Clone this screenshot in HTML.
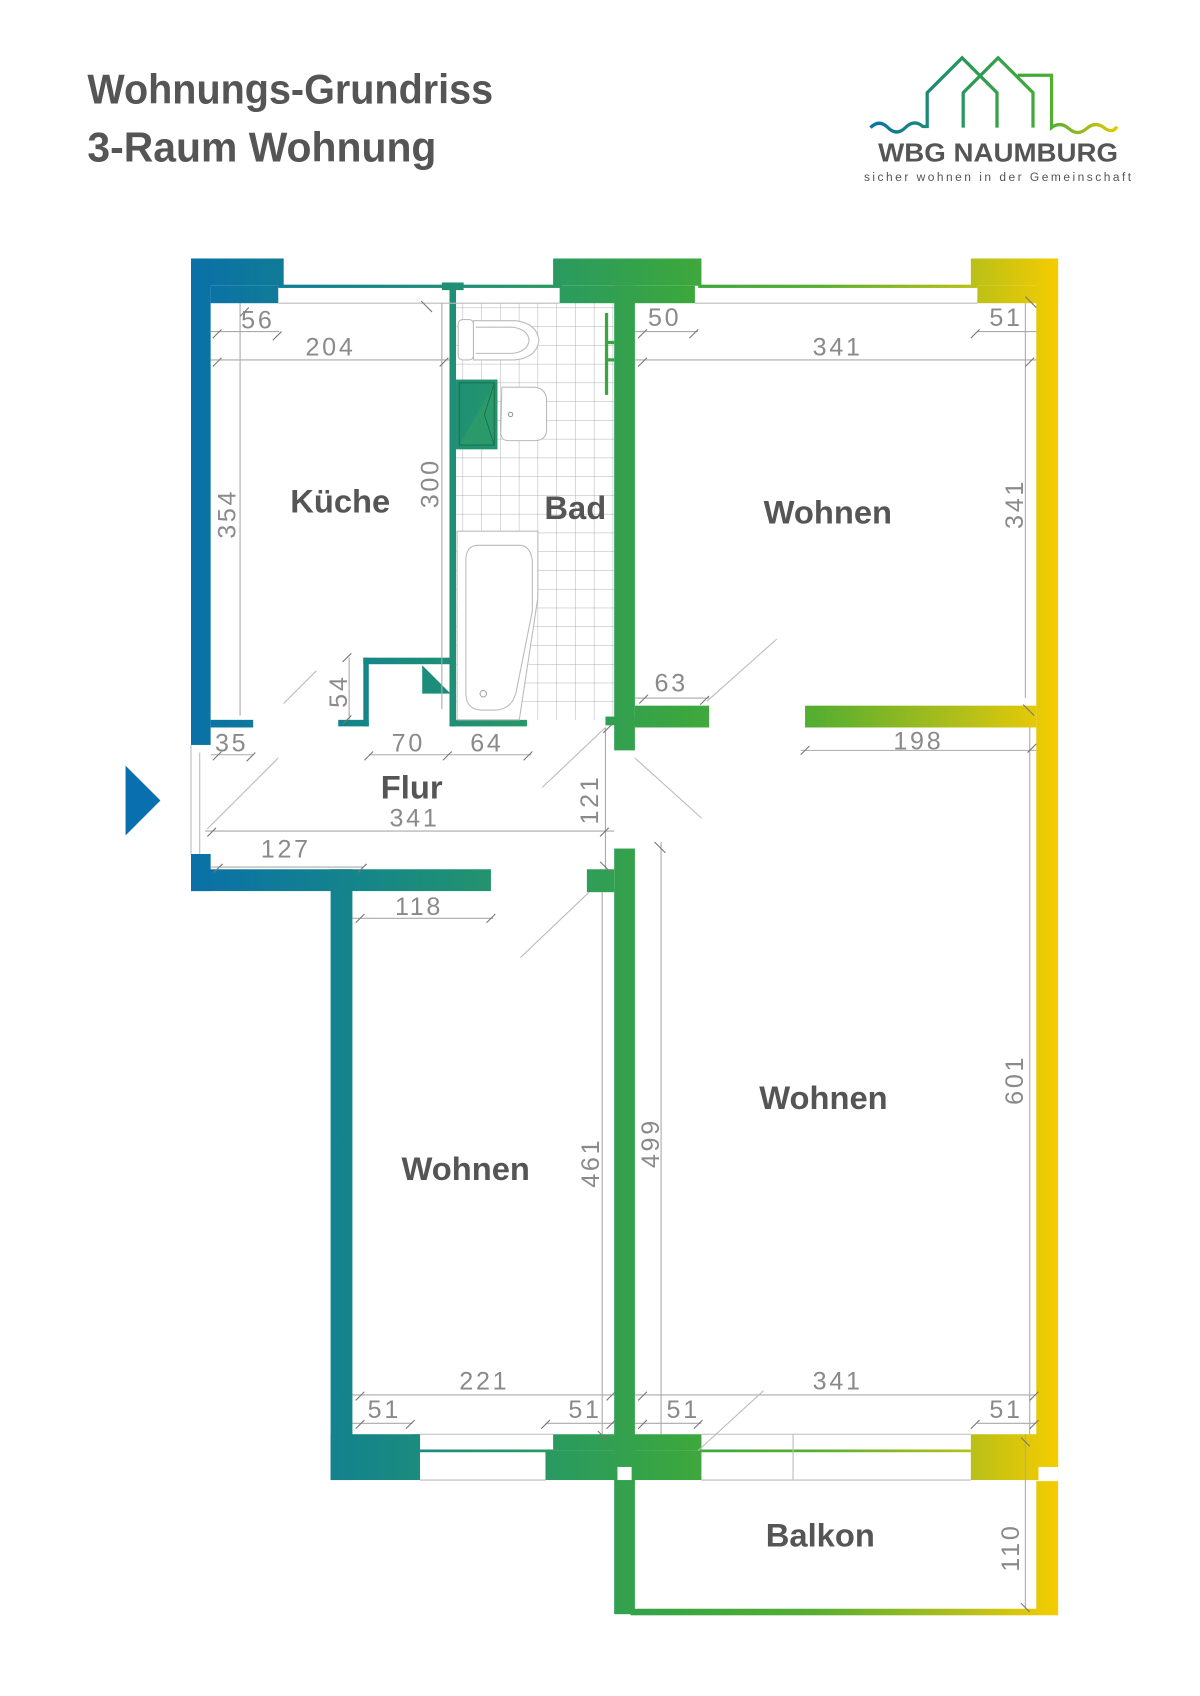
<!DOCTYPE html>
<html><head><meta charset="utf-8"><style>
html,body{margin:0;padding:0;background:#fff}
svg{display:block}
.t{font-family:"Liberation Sans",sans-serif;fill:#8a8a8a;font-size:23px;letter-spacing:2.5px}
.r{font-family:"Liberation Sans",sans-serif;font-weight:bold;fill:#555;font-size:30px}
.d{stroke:#aaa;stroke-width:1;fill:none}
.dk{stroke:#777;stroke-width:1;fill:none}
.s{stroke:#bbb;stroke-width:1;fill:none}
</style></head><body>
<svg width="1200" height="1696" viewBox="0 0 1100 1555" xmlns="http://www.w3.org/2000/svg">
<defs>
<linearGradient id="g" gradientUnits="userSpaceOnUse" x1="175" y1="0" x2="970" y2="0">
<stop offset="0" stop-color="#0a70a8"/>
<stop offset="0.2" stop-color="#158688"/>
<stop offset="0.42" stop-color="#2a9a60"/>
<stop offset="0.56" stop-color="#3aa640"/>
<stop offset="0.72" stop-color="#56ae30"/>
<stop offset="0.9" stop-color="#b8c018"/>
<stop offset="1" stop-color="#f5cc00"/>
</linearGradient>
<linearGradient id="lg" gradientUnits="userSpaceOnUse" x1="795" y1="0" x2="1030" y2="0">
<stop offset="0" stop-color="#0a70a8"/>
<stop offset="0.4" stop-color="#2a9a55"/>
<stop offset="0.7" stop-color="#4aac35"/>
<stop offset="1" stop-color="#f0cc00"/>
</linearGradient>
<pattern id="tile" patternUnits="userSpaceOnUse" x="424" y="282" width="17.2" height="17.2">
<path d="M0 0H17.2M0 0V17.2" stroke="#999" stroke-width="0.7" fill="none"/>
</pattern>
</defs>

<!-- title -->
<text x="80" y="95" font-family="'Liberation Sans Narrow','Liberation Sans',sans-serif" font-weight="bold" font-size="38" fill="#555" textLength="372" lengthAdjust="spacingAndGlyphs">Wohnungs-Grundriss</text>
<text x="80" y="148" font-family="'Liberation Sans Narrow','Liberation Sans',sans-serif" font-weight="bold" font-size="38" fill="#555" textLength="320" lengthAdjust="spacingAndGlyphs">3-Raum Wohnung</text>

<!-- logo -->
<g fill="none" stroke="url(#lg)" stroke-width="3">
<path d="M798 117 q8 -8 16 0 t16 0 t16 -1 h4 V85 L882 53 L914 85 V117"/>
<path d="M883 117 V85 L915 53 L947 85 V117"/>
<path d="M933 69 H964 V117 q8 -6 16 1 t16 0 t16 -1 t12 -1"/>
</g>
<text x="805" y="148" font-family="'Liberation Sans',sans-serif" font-weight="bold" font-size="24" fill="#555" textLength="220" lengthAdjust="spacingAndGlyphs">WBG NAUMBURG</text>
<text x="792" y="166" font-family="'Liberation Sans',sans-serif" font-size="11" fill="#555" textLength="245">sicher wohnen in der Gemeinschaft</text>

<!-- bath tiles -->
<rect x="418" y="278" width="145" height="382" fill="url(#tile)"/>

<!-- walls -->
<g fill="url(#g)">
<rect x="175" y="237" width="85" height="25"/>
<rect x="175" y="237" width="18" height="446"/>
<rect x="193" y="262" width="62" height="16"/>
<rect x="507" y="237" width="136" height="25"/>
<rect x="513" y="262" width="124" height="16"/>
<rect x="890" y="237" width="80" height="25"/>
<rect x="896" y="262" width="74" height="16"/>
<rect x="950" y="237" width="20" height="1108"/>
<rect x="950" y="1358" width="20" height="122"/>
<rect x="255" y="261" width="260" height="3"/>
<rect x="640" y="261" width="256" height="3"/>
<rect x="563" y="262" width="19" height="426"/>
<rect x="582" y="647" width="68" height="20"/>
<rect x="738" y="647" width="212" height="20"/>
<rect x="193" y="660" width="39" height="7"/>
<rect x="310" y="660" width="28" height="6"/>
<rect x="333" y="603" width="84" height="6"/>
<rect x="333" y="603" width="5" height="63"/>
<rect x="412" y="262" width="6" height="404"/>
<rect x="405" y="259" width="20" height="7"/>
<rect x="412" y="660" width="71" height="6"/>
<rect x="555" y="657" width="27" height="8"/>
<polygon points="387,610 413,636 387,636"/>
<rect x="418" y="348" width="38" height="64"/>
<rect x="175" y="783" width="18" height="34"/>
<rect x="175" y="797" width="275" height="20"/>
<rect x="303" y="797" width="20" height="560"/>
<rect x="538" y="797" width="25" height="21"/>
<rect x="563" y="778" width="19" height="579"/>
<rect x="303" y="1315" width="82" height="42"/>
<rect x="378" y="1315" width="7" height="15"/>
<rect x="500" y="1330" width="143" height="27"/>
<rect x="507" y="1315" width="136" height="15"/>
<rect x="890" y="1315" width="80" height="42"/>
<rect x="385" y="1329" width="122" height="2.5"/>
<rect x="643" y="1329" width="247" height="2.5"/>
<rect x="563" y="1345" width="19" height="135"/>
<rect x="578" y="1475" width="392" height="6"/>
</g>
<rect x="566" y="1345" width="13" height="12" fill="#fff"/>
<rect x="952" y="1345" width="18" height="12" fill="#fff"/>
<!-- shower tray details -->
<polygon points="421,408 453,352 453,408" fill="#2a9a6a"/>
<rect x="421" y="351" width="32" height="57" fill="none" stroke="#1a6a4a" stroke-width="0.8"/>
<path d="M453 352 L444 380 L453 408" stroke="#1a6a4a" stroke-width="0.8" fill="none"/>
<!-- grab bar -->
<path d="M556 287 V362 M556 330 H563 M556 314 H563" stroke="#3aa640" stroke-width="3" fill="none"/>

<!-- toilet, sink, tub -->
<rect x="420" y="293" width="14" height="37" rx="4" fill="#fff" stroke="#bbb"/>
<path d="M434 294 H472 Q492 296 494 312 Q492 328 472 330 H434 Z" fill="#fff" stroke="#bbb"/>
<path d="M436 300 H470 Q484 302 485 312 Q484 322 470 324 H436" fill="none" stroke="#bbb"/>
<path d="M460 355 H490 Q500 356 501 366 V395 Q500 404 490 404 H466 Q460 404 459 398 Z" fill="#fff" stroke="#bbb"/>
<circle cx="468" cy="380" r="2" fill="none" stroke="#999"/>
<path d="M419 487 H493 V548 L476 660 H419 Z" fill="#fff" stroke="#bbb"/>
<path d="M438 500 H478 Q487 502 488 515 V560 L473 635 Q469 650 455 651 H440 Q428 650 427 637 V512 Q428 500 438 500 Z" fill="none" stroke="#bbb"/>
<circle cx="443" cy="636" r="3" fill="none" stroke="#aaa"/>

<!-- entrance thin lines -->
<path d="M175 683 V783 M183 690 V783" stroke="#bbb" stroke-width="1" fill="none"/>
<polygon points="115,702 147,734 115,766" fill="#0a6fae"/>

<!-- window sill lines -->
<path class="s" d="M255 278 H513 M637 278 H896 M385 1315 H507 M643 1315 H890 M385 1357 H500 M643 1357 H890 M727 1315 V1357"/>

<!-- dimension lines -->
<g class="d">
<path d="M193 304 H256 M193 330 H412 M220 278 V656 M405 278 V650"/>
<path d="M582 304 H640 M582 330 H950 M896 304 H950 M940 278 V640"/>
<path d="M582 640 H650 M734 688 H950 M944 667 V1315"/>
<path d="M193 692 H232 M338 692 H487 M188 762 H563 M555 667 V797 M193 795 H333 M323 842 H452"/>
<path d="M323 1279 H563 M323 1305 H378 M500 1305 H563 M552 818 V1315 M606 772 V1315"/>
<path d="M582 1279 H950 M582 1305 H643 M896 1305 H950 M940 1315 V1475 M320 603 V660"/>
</g>
<g class="s">
<path d="M260 645 L290 615 M190 760 L255 695 M477 878 L540 818 M497 722 L555 667 M582 695 L643 750 M648 643 L712 586 M640 1330 L700 1275"/>
</g>
<g class="dk">
<path d="M195 310 l8 -8 M220 290 l8 -8 M250 312 l8 -8 M195 336 l8 -8 M403 336 l8 -8 M386 276 l10 10"/>
<path d="M585 310 l8 -8 M632 310 l8 -8 M890 310 l8 -8 M585 336 l8 -8 M940 336 l8 -8 M940 272 l10 10"/>
<path d="M586 645 l8 -8 M642 646 l8 -8 M734 692 l8 -8 M942 690 l8 -8 M938 646 l10 10"/>
<path d="M195 697 l8 -8 M226 698 l8 -8 M334 697 l8 -8 M406 697 l8 -8 M480 697 l8 -8 M190 767 l8 -8 M550 767 l8 -8 M196 800 l8 -8 M328 800 l8 -8 M326 846 l8 -8 M446 846 l8 -8 M553 672 l8 -8 M550 790 l10 10 M600 772 l10 10"/>
<path d="M326 1284 l8 -8 M556 1284 l8 -8 M326 1310 l8 -8 M372 1310 l8 -8 M496 1310 l8 -8 M556 1310 l8 -8 M548 1312 l8 8"/>
<path d="M585 1284 l8 -8 M944 1284 l8 -8 M585 1310 l8 -8 M636 1310 l8 -8 M890 1310 l8 -8 M944 1310 l8 -8 M936 1318 l8 8 M936 1470 l8 8 M314 607 l8 -8 M314 664 l8 -8"/>
</g>

<!-- dimension text -->
<g class="t">
<text x="221" y="301">56</text>
<text x="280" y="326">204</text>
<text x="594" y="299">50</text>
<text x="745" y="326">341</text>
<text x="907" y="299">51</text>
<text x="600" y="634">63</text>
<text x="819" y="687">198</text>
<text x="197" y="689">35</text>
<text x="359" y="689">70</text>
<text x="431" y="689">64</text>
<text x="357" y="758">341</text>
<text x="239" y="786">127</text>
<text x="362" y="839">118</text>
<text x="421" y="1274">221</text>
<text x="337" y="1300">51</text>
<text x="521" y="1300">51</text>
<text x="611" y="1300">51</text>
<text x="745" y="1274">341</text>
<text x="907" y="1300">51</text>
<text transform="translate(216,494) rotate(-90)">354</text>
<text transform="translate(402,466) rotate(-90)">300</text>
<text transform="translate(318,649) rotate(-90)">54</text>
<text transform="translate(938,485) rotate(-90)">341</text>
<text transform="translate(548,756) rotate(-90)">121</text>
<text transform="translate(549,1089) rotate(-90)">461</text>
<text transform="translate(604,1071) rotate(-90)">499</text>
<text transform="translate(938,1013) rotate(-90)">601</text>
<text transform="translate(934,1441) rotate(-90)">110</text>
</g>

<!-- room labels -->
<text class="r" x="266" y="470">Küche</text>
<text class="r" x="499" y="476">Bad</text>
<text class="r" x="700" y="480">Wohnen</text>
<text class="r" x="349" y="732">Flur</text>
<text class="r" x="696" y="1017">Wohnen</text>
<text class="r" x="368" y="1082">Wohnen</text>
<text class="r" x="702" y="1418">Balkon</text>
</svg>
</body></html>
